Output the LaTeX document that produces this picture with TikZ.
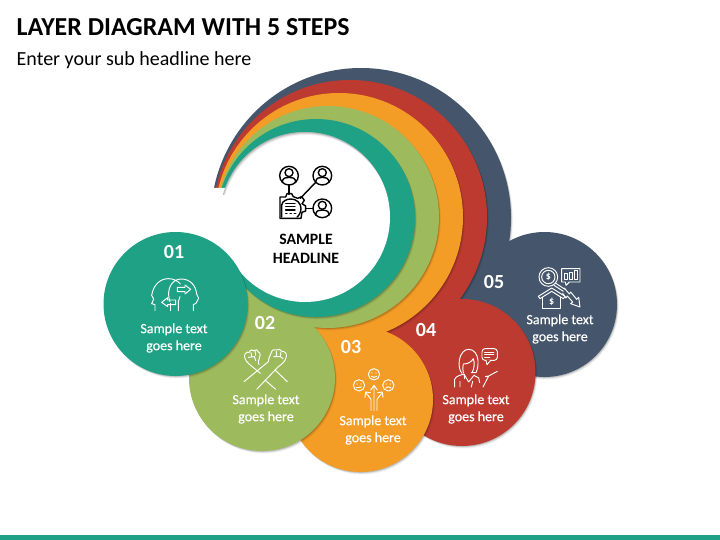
\documentclass[tikz,border=0pt]{standalone}
\usepackage{fontspec}
\setmainfont{Carlito}
\definecolor{cteal}{HTML}{1FA186}
\definecolor{cgreen}{HTML}{9DBB5D}
\definecolor{corange}{HTML}{F39C26}
\definecolor{cred}{HTML}{BC3A2F}
\definecolor{cnavy}{HTML}{45556B}
\tikzset{
  numlabel/.style={text=white,font=\fontsize{20}{22}\selectfont\bfseries,inner sep=0pt},
  steplabel/.style={text=white,font=\fontsize{14}{17}\selectfont\addfontfeature{FakeBold=0.4},align=center,inner sep=0pt},
  wicon/.style={draw=white,line width=0.95pt,line join=round,line cap=round},
  bicon/.style={draw=black,line width=1.4pt,line join=round,line cap=round},
}
\newcommand{\shadowdisc}[3]{\foreach \d/\a in {3/.05,2/.09,1/.14}{\fill[black,opacity=\a] ({#1+\d*.6},{#2+\d*.8}) circle[radius=#3];}}
\newcommand{\layerdisc}[7]{% colour, big cx cy r, small cx cy r
  \shadowdisc{#5}{#6}{#7}\shadowdisc{#2}{#3}{#4}
  \fill[#1] (#2,#3) circle[radius=#4];
  \fill[#1] (#5,#6) circle[radius=#7];}
\newcommand{\personicon}[2]{%
  \draw[bicon] (#1,#2) circle[radius=28];
  \draw[bicon] (#1,{#2-9}) circle[radius=12];
  \draw[bicon] ({#1-20},{#2+20}) .. controls ({#1-20},{#2+6}) and ({#1-8},{#2+5}) .. (#1,{#2+5}) .. controls ({#1+8},{#2+5}) and ({#1+20},{#2+6}) .. ({#1+20},{#2+20});}
\begin{document}
\begin{tikzpicture}[x=1pt,y=-1pt]
\useasboundingbox (0,0) rectangle (720,540);
\fill[white] (0,0) rectangle (720,540);
\fill[cteal] (0,535) rectangle (720,540);
\node[anchor=base west,inner sep=0pt,font=\fontsize{25.9}{28}\selectfont\bfseries] (title) at (16.5,36) {LAYER DIAGRAM WITH 5 STEPS};
\node[anchor=base west,inner sep=0pt,font=\fontsize{20}{22}\selectfont] (subtitle) at (16.5,65.5) {Enter your sub headline here};
% layers
\layerdisc{cnavy}{361}{218}{150}{544.5}{304.5}{72.5}
\layerdisc{cred}{350}{217}{137}{462}{372.5}{73.5}
\layerdisc{corange}{339}{217}{124}{360.5}{399.5}{72.5}
\shadowdisc{328}{217}{111}\shadowdisc{262}{378}{73}
\fill[cgreen] (328,217) circle[radius=111];
\fill[cgreen] (262,378) circle[radius=73];
\fill[cgreen] (244,285) -- (300,322) -- (240,340) -- cycle;
\shadowdisc{316}{218}{99}
\fill[cteal] (316,218) circle[radius=99];
% open the left side below the tips
\fill[white] (195,188) -- (240,188) -- (240,268) -- (234.4,264.4) -- (200,264) -- cycle;
\fill[white] (305,217) circle[radius=85];
\begin{scope}
  \clip (305,217) circle[radius=85];
  \clip (200,100) rectangle (420,195);
  \foreach \d/\a in {3/.06,2/.10,1/.14}{
    \fill[black,opacity=\a,even odd rule] (200,100) rectangle (420,300) ({305+\d*.5},{217+\d*1}) circle[radius=85];}
\end{scope}
\shadowdisc{175.5}{304}{72}
\fill[cteal] (175.5,304) circle[radius=72];
% texts
\node[numlabel] (n1) at (174,252) {01};
\node[numlabel] (n2) at (265,323) {02};
\node[numlabel] (n3) at (351,347) {03};
\node[numlabel] (n4) at (426,330) {04};
\node[numlabel] (n5) at (494,282) {05};
\node[steplabel] (t1) at (174,338) {Sample text\\goes here};
\node[steplabel] (t2) at (266,409) {Sample text\\goes here};
\node[steplabel] (t3) at (373,430) {Sample text\\goes here};
\node[steplabel] (t4) at (476,409) {Sample text\\goes here};
\node[steplabel] (t5) at (560,329) {Sample text\\goes here};
\node[align=center,inner sep=0pt,font=\fontsize{15.8}{19}\selectfont\bfseries] (head) at (306,249) {SAMPLE\\HEADLINE};
% centre icon
\begin{scope}[shift={(265,155)},x=.3333pt,y=-.3333pt]
  \personicon{72}{62}\personicon{172}{62}\personicon{172}{160}
  \draw[bicon] (72,90) -- (72,118);
  \draw[bicon] (152,82) -- (106,130);
  \draw[bicon] (122,160) -- (144,160);
  \draw[bicon] (45,190) -- (45,126) -- (62,126) -- (66,116) -- (80,116) -- (85,125) -- (98,130) -- (110,125) -- (118,136) -- (111,146) -- (122,153) -- (122,168) -- (111,172) -- (108,190) -- cycle;
  \draw[bicon] (50,186) -- (50,150) .. controls (52,138) and (65,132) .. (78,132) .. controls (95,132) and (108,145) .. (108,160) .. controls (108,172) and (102,182) .. (96,186);
  \draw[bicon] (62,145) -- (90,145) (62,155) -- (90,155) (62,165) -- (90,165);
  \draw[bicon] (62,176) -- (66,176) (75,176) -- (79,176) (88,176) -- (92,176);
\end{scope}
% icon 01
\begin{scope}[shift={(145,270)},x=.3333pt,y=-.3333pt]
  \draw[wicon] (30,122) -- (30,104) -- (20,101) -- (26,87) -- (20,76) .. controls (25,45) and (45,26) .. (70,26) .. controls (85,26) and (98,32) .. (106,42);
  \draw[wicon] (75,95) .. controls (62,60) and (80,27) .. (108,27) .. controls (135,27) and (152,45) .. (155,72) -- (161,85) -- (153,100) -- (145,104) -- (145,122);
  \draw[wicon] (75,122) -- (75,100);
  \draw[wicon] (100,122) -- (100,95) -- (105,80);
  \draw[wicon] (97,52) -- (120,52) -- (120,45) -- (137,58) -- (120,72) -- (120,65) -- (97,65) -- cycle;
  \draw[wicon] (92,90) -- (68,90) -- (68,83) -- (50,97) -- (68,110) -- (68,104) -- (92,104) -- cycle;
\end{scope}
% icon 02
\begin{scope}[shift={(235,340)},x=.3333pt,y=-.3333pt]
  \draw[wicon] (100,65) -- (27,125);
  \draw[wicon] (130,80) -- (65,148);
  \draw[wicon] (42,72) -- (76,100);
  \draw[wicon] (90,120) -- (122,148);
  \draw[wicon] (120,90) -- (157,125);
  \draw[wicon] (42,72) .. controls (30,62) and (26,48) .. (30,42) .. controls (34,34) and (40,36) .. (42,38) .. controls (46,28) and (54,28) .. (56,32) .. controls (62,26) and (70,30) .. (70,36) .. controls (78,38) and (76,50) .. (72,58) .. controls (70,64) and (68,68) .. (72,74);
  \draw[wicon] (40,52) -- (58,50) -- (62,62) (48,38) -- (50,48) (60,32) -- (62,46);
  \draw[wicon] (100,65) .. controls (100,55) and (104,50) .. (108,40) .. controls (110,30) and (118,26) .. (124,30) .. controls (130,26) and (138,28) .. (140,34) .. controls (148,32) and (156,40) .. (154,50) .. controls (152,62) and (142,72) .. (130,80);
  \draw[wicon] (116,50) -- (136,50) -- (144,56) (124,34) -- (124,48) (138,36) -- (136,48);
\end{scope}
% icon 03
\begin{scope}[shift={(345,362)},x=.3333pt,y=-.3333pt]
  \foreach \cx/\cy in {87/37,42/70,130/70}{
    \draw[wicon] (\cx,\cy) circle[radius=17];
    \fill[white] ({\cx-6},{\cy-4}) circle[radius=1.8] ({\cx+6},{\cy-4}) circle[radius=1.8];}
  \draw[wicon] (79,43) .. controls (84,47) and (90,47) .. (95,43);
  \draw[wicon] (34,77) -- (50,75);
  \draw[wicon] (122,78) .. controls (127,73) and (133,73) .. (138,78);
  \draw[wicon] (87,145) -- (87,72) (77,84) -- (87,70) -- (97,84);
  \draw[wicon] (78,145) -- (78,112) -- (64,94) (60,106) -- (62,90) -- (76,92);
  \draw[wicon] (96,145) -- (96,112) -- (110,94) (114,106) -- (112,90) -- (98,92);
\end{scope}
% icon 04
\begin{scope}[shift={(448,342)},x=.3333pt,y=-.3333pt]
  \draw[wicon] (42,94) .. controls (34,86) and (32,70) .. (34,55) .. controls (38,32) and (50,22) .. (62,22) .. controls (78,22) and (88,36) .. (90,55) .. controls (91,70) and (88,84) .. (84,92) -- (70,92);
  \draw[wicon] (46,92) .. controls (44,80) and (44,72) .. (46,66) .. controls (60,66) and (70,60) .. (76,50) .. controls (80,62) and (80,78) .. (72,92);
  \draw[wicon] (20,135) -- (20,112) .. controls (24,102) and (36,100) .. (48,96) -- (62,120) -- (78,100) -- (92,108) -- (95,122) ;
  \draw[wicon] (36,135) -- (36,118) (48,96) -- (50,110);
  \draw[wicon] (70,135) -- (74,118) (105,135) -- (122,102) -- (148,88) (122,102) -- (112,104);
  \draw[wicon,rounded corners=3pt] (102,20) rectangle (148,55);
  \fill[cred] (114,54) rectangle (128,57);
  \draw[wicon] (114,55) -- (117,68) -- (128,55);
  \draw[wicon] (110,30) -- (138,30) (110,38) -- (138,38) (110,46) -- (126,46);
\end{scope}
% icon 05
\begin{scope}[shift={(530,262)},x=.3333pt,y=-.3333pt]
  \draw[wicon] (55,45) circle[radius=28];
  \draw[wicon] (55,45) circle[radius=20];
  \node[text=white,inner sep=0pt,font=\fontsize{10}{10}\selectfont\bfseries] (d1) at (55,45) {\$};
  \draw[wicon] (76,63) -- (105,82) (72,70) -- (100,88);
  \draw[wicon] (95,20) -- (150,20) -- (150,60) -- (118,60) -- (108,70) -- (106,60) -- (95,60) -- cycle;
  \draw[wicon] (102,35) rectangle (112,52) (117,30) rectangle (127,52) (133,26) rectangle (143,52);
  \draw[wicon] (103,78) -- (118,96) -- (122,90) -- (140,112) -- (146,106) -- (150,135) -- (122,125) -- (128,120) -- (112,102) -- (108,108) -- (98,94);
  \draw[wicon] (25,103) -- (65,78) -- (105,103);
  \draw[wicon] (25,103) -- (30,110) -- (65,88) -- (100,110) -- (105,103);
  \draw[wicon] (38,106) -- (38,140) -- (92,140) -- (92,106);
  \node[text=white,inner sep=0pt,font=\fontsize{10}{10}\selectfont\bfseries] (d2) at (65,118) {\$};
\end{scope}
\end{tikzpicture}
\end{document}
